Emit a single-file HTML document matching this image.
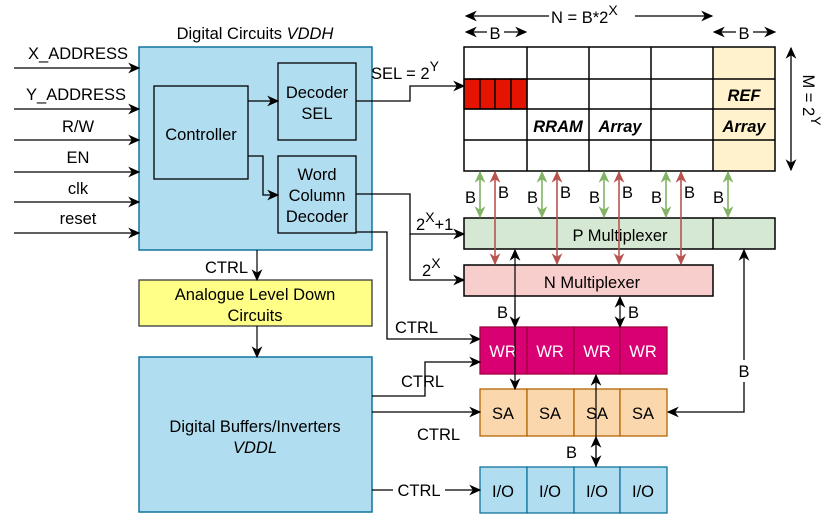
<!DOCTYPE html>
<html><head><meta charset="utf-8"><style>
html,body{margin:0;padding:0;background:#fff;}
svg{display:block;font-family:"Liberation Sans",Arial,sans-serif;}
</style></head><body>
<svg width="830" height="516" viewBox="0 0 830 516" xmlns="http://www.w3.org/2000/svg">
<defs>
<marker id="a" viewBox="0 0 10 10" refX="9" refY="5" markerWidth="12" markerHeight="12" orient="auto-start-reverse" markerUnits="userSpaceOnUse"><path d="M0,0.5 L10,5 L0,9.5 L3,5 z" fill="#000"/></marker>
<marker id="ag" viewBox="0 0 10 10" refX="9" refY="5" markerWidth="12" markerHeight="12" orient="auto-start-reverse" markerUnits="userSpaceOnUse"><path d="M0,0.5 L10,5 L0,9.5 L3,5 z" fill="#82b366"/></marker>
<marker id="ar" viewBox="0 0 10 10" refX="9" refY="5" markerWidth="12" markerHeight="12" orient="auto-start-reverse" markerUnits="userSpaceOnUse"><path d="M0,0.5 L10,5 L0,9.5 L3,5 z" fill="#b85450"/></marker>
</defs>
<g font-size="16.5" fill="#000">
<text x="255" y="39" text-anchor="middle">Digital Circuits <tspan font-style="italic">VDDH</tspan></text>
<rect x="139" y="47" width="233" height="203" fill="#b1ddf0" stroke="#10739e" stroke-width="1.5"/>
<rect x="154" y="86" width="94" height="93" fill="#b1ddf0" stroke="#000" stroke-width="1.3"/>
<text x="201" y="140" text-anchor="middle">Controller</text>
<rect x="278" y="63" width="78" height="77" fill="#b1ddf0" stroke="#000" stroke-width="1.3"/>
<text x="317" y="98" text-anchor="middle">Decoder</text><text x="317" y="119" text-anchor="middle">SEL</text>
<rect x="278" y="156" width="78" height="77" fill="#b1ddf0" stroke="#000" stroke-width="1.3"/>
<text x="317" y="180" text-anchor="middle">Word</text><text x="317" y="201" text-anchor="middle">Column</text><text x="317" y="222" text-anchor="middle">Decoder</text>
<path d="M248,101 H278" stroke="#000" stroke-width="1.3" fill="none" marker-end="url(#a)"/>
<path d="M248,156 H263 V195 H278" stroke="#000" stroke-width="1.3" fill="none" marker-end="url(#a)"/>
<g stroke="#000" stroke-width="1.2" fill="none" marker-end="url(#a)">
<path d="M14,68 H139"/><path d="M14,109 H139"/><path d="M14,140 H139"/><path d="M14,172 H139"/><path d="M14,202 H139"/><path d="M14,233 H139"/>
</g>
<g text-anchor="middle"><text x="78" y="59">X_ADDRESS</text><text x="76" y="100">Y_ADDRESS</text><text x="78" y="132">R/W</text><text x="78" y="163">EN</text><text x="78" y="194">clk</text><text x="78" y="224">reset</text></g>
<rect x="139" y="280" width="233" height="46" fill="#ffff88" stroke="#36393d" stroke-width="1.3"/>
<text x="255" y="300" text-anchor="middle">Analogue Level Down</text><text x="255" y="321" text-anchor="middle">Circuits</text>
<rect x="139" y="357" width="233" height="155" fill="#b1ddf0" stroke="#10739e" stroke-width="1.5"/>
<text x="255" y="432" text-anchor="middle">Digital Buffers/Inverters</text><text x="255" y="453" text-anchor="middle" font-style="italic">VDDL</text>
<path d="M257,250 V280" stroke="#000" stroke-width="1.2" fill="none" marker-end="url(#a)"/>
<text x="205" y="273">CTRL</text>
<path d="M257,326 V357" stroke="#000" stroke-width="1.2" fill="none" marker-end="url(#a)"/>
<rect x="713" y="47" width="62" height="124" fill="#fff2cc"/>
<g fill="#e51400" stroke="#000" stroke-width="1.3"><rect x="464" y="79" width="16" height="30"/><rect x="480" y="79" width="15" height="30"/><rect x="495" y="79" width="16" height="30"/><rect x="511" y="79" width="16" height="30"/></g>
<g stroke="#000" stroke-width="1.5" fill="none">
<rect x="464" y="47" width="311" height="124"/>
<path d="M527,47V171M589,47V171M651,47V171M713,47V171M464,79H775M464,109H775M464,140H775"/>
</g>
<g font-weight="bold" font-style="italic" text-anchor="middle"><text x="558" y="132">RRAM</text><text x="620" y="132">Array</text><text x="744" y="101">REF</text><text x="744" y="132">Array</text></g>
<path d="M466,16 H712" stroke="#000" stroke-width="1.3" fill="none" marker-start="url(#a)" marker-end="url(#a)"/>
<rect x="549" y="4" width="86" height="20" fill="#fff"/>
<text x="551" y="23">N = B*2<tspan font-size="14" dy="-8">X</tspan></text>
<path d="M466,32 H526" stroke="#000" stroke-width="1.3" fill="none" marker-start="url(#a)" marker-end="url(#a)"/>
<rect x="487" y="23" width="17" height="17" fill="#fff"/><text x="495" y="39" text-anchor="middle">B</text>
<path d="M714,32 H775" stroke="#000" stroke-width="1.3" fill="none" marker-start="url(#a)" marker-end="url(#a)"/>
<rect x="736" y="23" width="17" height="17" fill="#fff"/><text x="744" y="39" text-anchor="middle">B</text>
<path d="M791,48 V170" stroke="#000" stroke-width="1.3" fill="none" marker-start="url(#a)" marker-end="url(#a)"/>
<text transform="translate(803,100) rotate(90)" text-anchor="middle">M = 2<tspan font-size="14" dy="-8">Y</tspan></text>
<path d="M356,101 H410 V86 H464" stroke="#000" stroke-width="1.3" fill="none" marker-end="url(#a)"/>
<text x="371" y="79">SEL = 2<tspan font-size="14" dy="-8">Y</tspan></text>
<rect x="464" y="218" width="311" height="31" fill="#d5e8d4" stroke="#000" stroke-width="1.5"/>
<path d="M713,218V249" stroke="#000" stroke-width="1.5"/>
<text x="620" y="241" text-anchor="middle">P Multiplexer</text>
<rect x="464" y="265" width="249" height="31" fill="#f8cecc" stroke="#000" stroke-width="1.5"/>
<text x="592" y="288" text-anchor="middle">N Multiplexer</text>
<g stroke="#82b366" stroke-width="1.6" fill="none" marker-start="url(#ag)" marker-end="url(#ag)">
<path d="M480,172V217"/><path d="M542,172V217"/><path d="M604,172V217"/><path d="M666,172V217"/><path d="M728,172V217"/>
</g>
<g stroke="#b85450" stroke-width="1.6" fill="none" marker-start="url(#ar)" marker-end="url(#ar)">
<path d="M495,172V264"/><path d="M557,172V264"/><path d="M619,172V264"/><path d="M681,172V264"/>
</g>
<g><text x="465" y="203">B</text><text x="498" y="198">B</text><text x="527" y="203">B</text><text x="560" y="198">B</text><text x="589" y="203">B</text><text x="622" y="198">B</text><text x="651" y="203">B</text><text x="684" y="198">B</text><text x="713" y="203">B</text></g>
<path d="M356,194 H410 V234 H464" stroke="#000" stroke-width="1.3" fill="none" marker-end="url(#a)"/>
<path d="M410,234 V280 H464" stroke="#000" stroke-width="1.3" fill="none" marker-end="url(#a)"/>
<text x="416" y="230">2<tspan font-size="14" dy="-8">X</tspan><tspan dy="8">+1</tspan></text>
<text x="422" y="276">2<tspan font-size="14" dy="-8">X</tspan></text>
<path d="M356,232 H387 V339 H480" stroke="#000" stroke-width="1.3" fill="none" marker-end="url(#a)"/>
<text x="395" y="333">CTRL</text>
<g stroke="#a50040" stroke-width="1.3" fill="#d80073"><rect x="480" y="327" width="47" height="47"/><rect x="527" y="327" width="47" height="47"/><rect x="574" y="327" width="46" height="47"/><rect x="620" y="327" width="47" height="47"/></g>
<g fill="#fff" text-anchor="middle"><text x="503" y="357">WR</text><text x="550" y="357">WR</text><text x="597" y="357">WR</text><text x="643" y="357">WR</text></g>
<g stroke="#b46504" stroke-width="1.3" fill="#fad7ac"><rect x="480" y="389" width="47" height="47"/><rect x="527" y="389" width="47" height="47"/><rect x="574" y="389" width="46" height="47"/><rect x="620" y="389" width="47" height="47"/></g>
<g text-anchor="middle"><text x="503" y="419">SA</text><text x="550" y="419">SA</text><text x="597" y="419">SA</text><text x="643" y="419">SA</text></g>
<g stroke="#10739e" stroke-width="1.3" fill="#b1ddf0"><rect x="480" y="467" width="47" height="46"/><rect x="527" y="467" width="47" height="46"/><rect x="574" y="467" width="46" height="46"/><rect x="620" y="467" width="47" height="46"/></g>
<g text-anchor="middle"><text x="503" y="497">I/O</text><text x="550" y="497">I/O</text><text x="597" y="497">I/O</text><text x="643" y="497">I/O</text></g>
<path d="M515,250 V389" stroke="#000" stroke-width="1.2" fill="none" marker-start="url(#a)" marker-end="url(#a)"/>
<path d="M515,300 V327" stroke="#000" stroke-width="1.2" fill="none" marker-end="url(#a)"/>
<text x="497" y="318">B</text>
<path d="M620,297 V327" stroke="#000" stroke-width="1.2" fill="none" marker-start="url(#a)" marker-end="url(#a)"/>
<text x="628" y="318">B</text>
<path d="M596,467 V375" stroke="#000" stroke-width="1.2" fill="none" marker-end="url(#a)"/>
<path d="M596,437 V466" stroke="#000" stroke-width="1.2" fill="none" marker-start="url(#a)" marker-end="url(#a)"/>
<text x="566" y="458">B</text>
<path d="M744,250 V412 H668" stroke="#000" stroke-width="1.3" fill="none" marker-start="url(#a)" marker-end="url(#a)"/>
<rect x="736" y="360" width="17" height="22" fill="#fff"/><text x="744" y="377" text-anchor="middle">B</text>
<path d="M372,396 H425 V362 H480" stroke="#000" stroke-width="1.3" fill="none" marker-end="url(#a)"/>
<text x="401" y="387">CTRL</text>
<path d="M372,412 H480" stroke="#000" stroke-width="1.3" fill="none" marker-end="url(#a)"/>
<text x="417" y="440">CTRL</text>
<path d="M372,490 H480" stroke="#000" stroke-width="1.3" fill="none" marker-end="url(#a)"/>
<rect x="393" y="480" width="52" height="20" fill="#fff"/><text x="419" y="496" text-anchor="middle">CTRL</text>
</g>
</svg>
</body></html>
